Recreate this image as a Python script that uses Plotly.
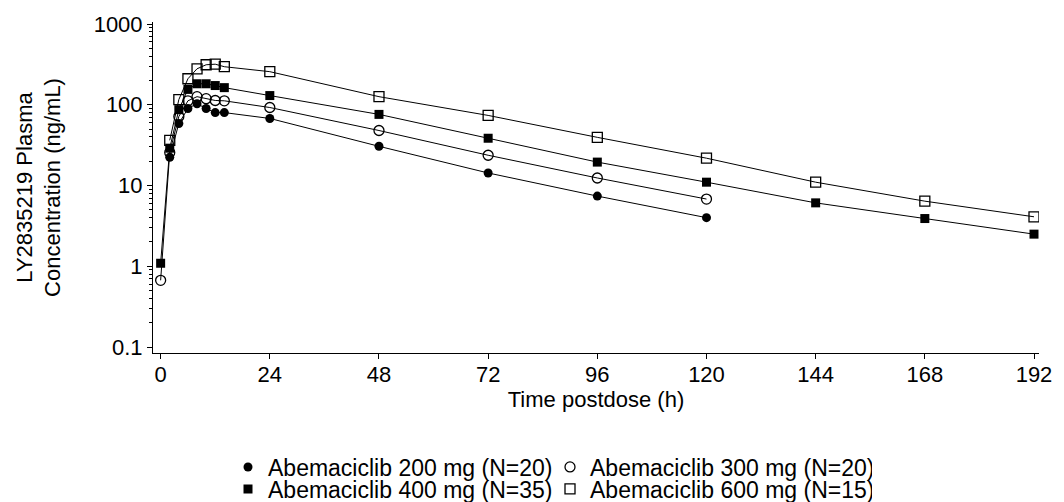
import plotly.graph_objects as go

# Time points (h)
time_h = [0, 2, 4, 6, 8, 10, 12, 14, 24, 48, 72, 96, 120, 144, 168, 192]

# Mean plasma concentrations (ng/mL); None = not shown
conc_200 = [None, 22.4, 58.7, 90, 103, 90, 80, 80, 67.7, 30.6, 14.3, 7.4, 4.0, None, None, None]
conc_300 = [0.67, 25.7, 71.6, 112, 126, 119, 113, 112, 92.5, 48, 23.7, 12.4, 6.8, None, None, None]
conc_400 = [1.09, 29, 87, 155, 182, 182, 173, 163, 130, 76, 38.5, 19.5, 11.0, 6.1, 3.9, 2.5]
conc_600 = [None, 36.3, 116, 210, 279, 313, 318, 296, 257, 126, 73.8, 39.5, 21.8, 11.0, 6.4, 4.1]

series_names = ["Abemaciclib 200 mg (N=20)", "Abemaciclib 300 mg (N=20)",
                "Abemaciclib 400 mg (N=35)", "Abemaciclib 600 mg (N=15)"]

x_tickvals = [0, 24, 48, 72, 96, 120, 144, 168, 192]
y_tickvals = [0.1, 1, 10, 100, 1000]
y_ticktext = ["0.1", "1", "10", "100", "1000"]

FONT = "Arial, Liberation Sans, sans-serif"

series = [
    (conc_200, dict(symbol="circle", size=9, color="black"), "legend"),
    (conc_300, dict(symbol="circle-open", size=10, color="black", line=dict(width=1.3)), "legend"),
    (conc_400, dict(symbol="square", size=9, color="black"), "legend2"),
    (conc_600, dict(symbol="square-open", size=10, color="black", line=dict(width=1.3)), "legend2"),
]

fig = go.Figure()
for vals, mk, lg in series:
    fig.add_trace(go.Scatter(x=time_h, y=vals, mode="lines", connectgaps=False,
                             line=dict(color="black", width=1), showlegend=False,
                             hoverinfo="skip"))
for (vals, mk, lg), name in zip(series, series_names):
    fig.add_trace(go.Scatter(x=time_h, y=vals, mode="markers", marker=mk,
                             name=name, legend=lg))

minor_vals = [m * 10 ** e for e in range(-1, 3) for m in range(2, 10)]

legend_common = dict(orientation="h", xref="container", yref="container",
                     xanchor="left", yanchor="middle", font=dict(size=23),
                     bgcolor="rgba(0,0,0,0)", tracegroupgap=0, itemwidth=30,
                     entrywidthmode="pixels", entrywidth=277)

fig.update_layout(
    width=1064, height=502,
    margin=dict(l=153, r=17, t=20, b=149),
    paper_bgcolor="white", plot_bgcolor="white",
    font=dict(family=FONT, size=22, color="black"),
    xaxis=dict(
        range=[-1.68, 193.1], tickmode="array", tickvals=x_tickvals,
        ticks="outside", ticklen=5, tickcolor="black", showline=True,
        linecolor="black", linewidth=1, showgrid=False, zeroline=False,
        tickfont=dict(size=22), ticklabelstandoff=-3,
        title=dict(text="Time postdose (h)", font=dict(size=22), standoff=4),
    ),
    yaxis=dict(
        type="log", range=[-1.074, 3.025], tickmode="array",
        tickvals=y_tickvals, ticktext=y_ticktext,
        ticks="outside", ticklen=5, tickcolor="black", showline=True,
        linecolor="black", linewidth=1, showgrid=False, zeroline=False,
        tickfont=dict(size=22),
        minor=dict(tickmode="array", tickvals=minor_vals, ticks="outside",
                   ticklen=3, tickcolor="black"),
        title=dict(text="LY2835219 Plasma<br>Concentration (ng/mL)",
                   font=dict(size=22), standoff=26),
    ),
    legend=dict(x=228 / 1064, y=1 - 467 / 502, **legend_common),
    legend2=dict(x=228 / 1064, y=1 - 489 / 502, **legend_common),
)

fig.write_html("out.html")
